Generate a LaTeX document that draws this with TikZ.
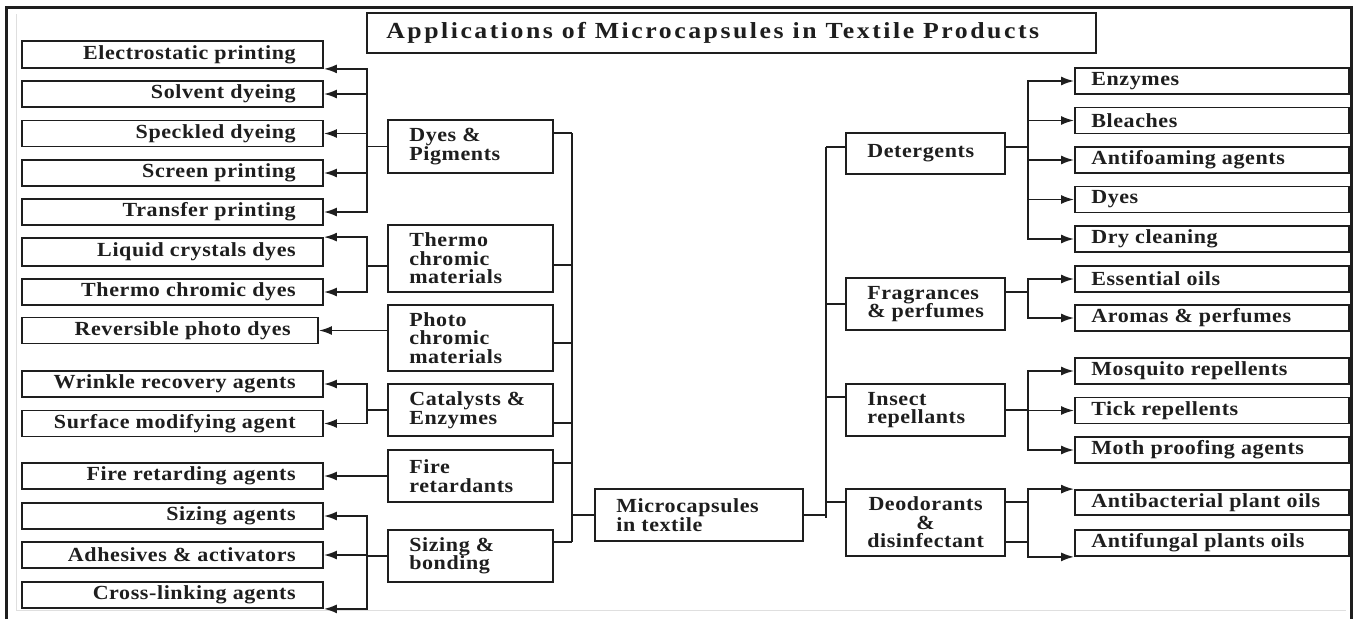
\documentclass[tikz,border=0pt]{standalone}
\usepackage{fontspec}
\setmainfont{Liberation Serif}[FakeStretch=1.1, LetterSpace=3]
\newfontfamily\titlefont{Liberation Serif}[FakeStretch=1.12, LetterSpace=11]
\usetikzlibrary{arrows.meta}
\definecolor{ink}{HTML}{1E1E1E}
\begin{document}
\begin{tikzpicture}[x=1pt,y=-1pt,
  box/.style={draw=ink, line width=1.8pt, inner sep=0pt, fill=white},
  lbl/.style={inner sep=0pt, font=\fontsize{20}{18.5}\selectfont\bfseries, text=ink},
  LL/.style={box, minimum width=301pt, minimum height=26pt, label={[lbl,anchor=east,xshift=-28pt]east:#1}},
  MB/.style={box, minimum width=165pt, label={[lbl,anchor=west,xshift=22pt,align=left]west:#1}},
  RB/.style={box, minimum width=159pt, label={[lbl,anchor=west,xshift=22pt,align=left]west:#1}},
  RL/.style={box, minimum width=274pt, minimum height=26pt, label={[lbl,anchor=west,xshift=17pt]west:#1}},
  conn/.style={draw=ink, line width=1.8pt},
  arr/.style={conn, -{Latex[length=13pt,width=9pt]}}
]
\useasboundingbox (0,0) rectangle (1353,619);
% frame
\draw[gray!25, line width=1pt] (16,14) -- (16,610) -- (1346,610);
\draw[ink, line width=3pt] (6,619) -- (6,7) -- (1351,7) -- (1351,619);

% title
\node[box, minimum width=729pt, minimum height=40pt,
  label={[lbl,anchor=west,xshift=20pt,font=\titlefont\fontsize{23}{26}\selectfont\bfseries]west:Applications of Microcapsules in Textile Products}]
  (title) at (731.5,33) {};

% left leaves
\node[LL=Electrostatic printing, minimum height=27pt] (e1) at (172.5,54.5) {};
\node[LL=Solvent dyeing] (e2) at (172.5,94) {};
\node[LL=Speckled dyeing] (e3) at (172.5,133.5) {};
\node[LL=Screen printing] (e4) at (172.5,173) {};
\node[LL=Transfer printing] (e5) at (172.5,212) {};
\node[LL=Liquid crystals dyes, minimum height=28pt] (e6) at (172.5,252) {};
\node[LL=Thermo chromic dyes] (e7) at (172.5,292) {};
\node[LL=Reversible photo dyes, minimum width=296pt] (e8) at (170,330.5) {};
\node[LL=Wrinkle recovery agents] (e9) at (172.5,384) {};
\node[LL=Surface modifying agent] (e10) at (172.5,423.5) {};
\node[LL=Fire retarding agents] (e11) at (172.5,476) {};
\node[LL=Sizing agents] (e12) at (172.5,516) {};
\node[LL=Adhesives \& activators] (e13) at (172.5,555) {};
\node[LL=Cross-linking agents] (e14) at (172.5,595) {};

% middle boxes
\node[MB={Dyes \&\\Pigments}, minimum height=53pt] (m1) at (470.5,146.5) {};
\node[MB={Thermo\\chromic\\materials}, minimum height=67pt] (m2) at (470.5,258.5) {};
\node[MB={Photo\\chromic\\materials}, minimum height=66pt] (m3) at (470.5,338) {};
\node[MB={Catalysts \&\\Enzymes}, minimum height=52pt] (m4) at (470.5,410) {};
\node[MB={Fire\\retardants}, minimum height=52pt] (m5) at (470.5,476) {};
\node[MB={Sizing \&\\bonding}, minimum height=52pt] (m6) at (470.5,556) {};

% main
\node[box, minimum width=208pt, minimum height=52pt,
  label={[lbl,anchor=west,xshift=22pt,align=left]west:Microcapsules\\in textile}] (mic) at (699,515) {};

% right middle
\node[RB=Detergents, minimum height=41pt] (r1) at (925.5,153.5) {};
\node[RB={Fragrances\\\& perfumes}, minimum height=52pt] (r2) at (925.5,304) {};
\node[RB={Insect\\repellants}, minimum height=52pt] (r3) at (925.5,410) {};
\node[box, minimum width=159pt, minimum height=67pt,
  label={[lbl,anchor=west,xshift=22pt,align=center]west:Deodorants\\\&\\disinfectant}] (r4) at (925.5,522.5) {};

% right leaves
\node[RL=Enzymes] (l1) at (1212,81) {};
\node[RL=Bleaches] (l2) at (1212,120.5) {};
\node[RL=Antifoaming agents] (l3) at (1212,160) {};
\node[RL=Dyes] (l4) at (1212,199.5) {};
\node[RL=Dry cleaning] (l5) at (1212,239) {};
\node[RL=Essential oils] (l6) at (1212,279) {};
\node[RL=Aromas \& perfumes] (l7) at (1212,318) {};
\node[RL=Mosquito repellents] (l8) at (1212,371) {};
\node[RL=Tick repellents] (l9) at (1212,410.5) {};
\node[RL=Moth proofing agents] (l10) at (1212,450) {};
\node[RL=Antibacterial plant oils, minimum height=25pt] (l11) at (1212,502.5) {};
\node[RL=Antifungal plants oils] (l12) at (1212,543) {};

% ---- left connectors ----
\foreach \t in {e1.south east, e2.east, e3.east, e4.east, e5.east}
  \draw[arr] (m1.west) -- ++(-20,0) |- (\t);
\coordinate (m2w) at ([yshift=-7.5pt]m2.west);
\foreach \t in {e6.north east, e7.east}
  \draw[arr] (m2w) -- ++(-20,0) |- (\t);
\draw[arr] (m3.west |- e8.east) -- (e8.east);
\foreach \t in {e9.east, e10.east}
  \draw[arr] (m4.west) -- ++(-20,0) |- (\t);
\draw[arr] (m5.west) -- (e11.east);
\foreach \t in {e12.east, e13.east, e14.south east}
  \draw[arr] (m6.west) -- ++(-20,0) |- (\t);

% ---- main left bus ----
\draw[conn] (mic.west) -- ++(-22,0) coordinate (bm);
\coordinate (c1) at ([yshift=13.5pt]m1.east);
\coordinate (c2) at ([yshift=-6.5pt]m2.east);
\coordinate (c3) at ([yshift=-5pt]m3.east);
\coordinate (c4) at ([yshift=-13pt]m4.east);
\coordinate (c5) at ([yshift=13pt]m5.east);
\coordinate (c6) at ([yshift=14pt]m6.east);
\foreach \c in {c1,c2,c3,c4,c5,c6}
  \draw[conn] (\c) -- (\c -| bm);
\draw[conn] (c1 -| bm) -- (c6 -| bm);

% ---- main right bus ----
\draw[conn] (mic.east) -- ++(22,0) coordinate (bn);
\coordinate (d1) at ([yshift=6.5pt]r1.west);
\coordinate (d2) at (r2.west);
\coordinate (d3) at ([yshift=13pt]r3.west);
\coordinate (d4) at ([yshift=20.5pt]r4.west);
\foreach \c in {d1,d2,d3,d4}
  \draw[conn] (\c) -- (\c -| bn);
\draw[conn] (d1 -| bn) -- ([yshift=-3pt]bn);

% ---- right connectors ----
\coordinate (g1) at ([yshift=6.5pt]r1.east);
\foreach \t in {l1,l2,l3,l4,l5}
  \draw[arr] (g1) -- ++(22,0) |- (\t.west);
\coordinate (g2) at ([yshift=12pt]r2.east);
\foreach \t in {l6,l7}
  \draw[arr] (g2) -- ++(22,0) |- (\t.west);
\foreach \t in {l8,l9,l10}
  \draw[arr] (r3.east) -- ++(22,0) |- (\t.west);
\coordinate (g4a) at ([yshift=20.5pt]r4.east);
\coordinate (g4b) at ([yshift=-19.5pt]r4.east);
\draw[conn] (g4a) -- ++(22,0) |- (g4b);
\draw[arr] (g4a) -- ++(22,0) |- (l11.north west);
\draw[arr] (g4b) -- ++(22,0) |- (l12.south west);
\end{tikzpicture}
\end{document}
